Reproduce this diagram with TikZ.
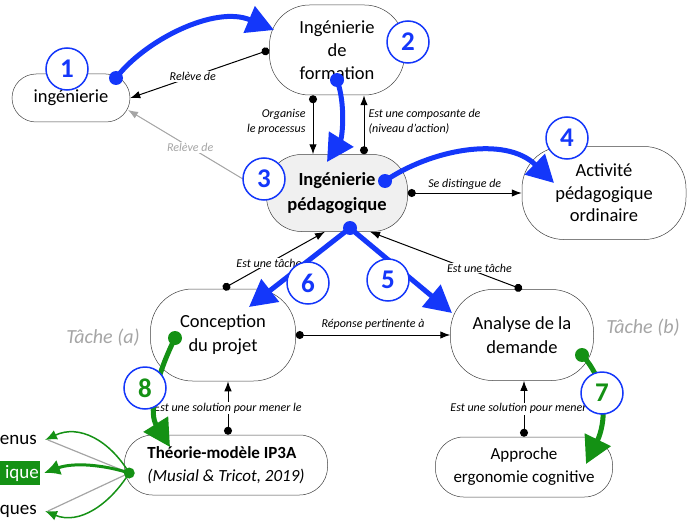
\documentclass[tikz,border=0pt]{standalone}
\usepackage{fontspec}
\setmainfont{Carlito}
\usetikzlibrary{arrows.meta, calc}

\definecolor{bleu}{RGB}{20,55,250}
\definecolor{vert}{RGB}{20,145,20}
\definecolor{gris}{RGB}{165,165,165}
\definecolor{fond}{RGB}{240,240,240}

\begin{document}
\begin{tikzpicture}[%
        x = 1pt, y = -1pt,
        > = Latex,
        line cap = round,
        bulle/.style = {%
            draw = black!75, line width = 0.5pt, align = center,
            inner sep = 2pt, font = \fontsize{18.5}{24}\selectfont
        },
        lien/.style = {line width = 1pt, {Circle[length = 8pt]}-{Latex[length = 10pt]}},
        etiq/.style = {font = \itshape\fontsize{12}{14.5}\selectfont, fill = white, inner sep = 1pt},
        tache/.style = {font = \itshape\fontsize{20}{24}\selectfont, text = gris},
        coupe/.style = {anchor = east, font = \fontsize{19}{19}\selectfont, inner sep = 1pt},
        fleche/.style = {%
            line width = 5pt,
            -{Triangle[length = 27pt, width = 28pt]}
        },
        num/.style = {%
            circle, draw = bleu, line width = 1.5pt, fill = white,
            minimum size = 42pt, inner sep = 0pt,
            font = \bfseries\fontsize{27}{27}\selectfont
        }
    ]

        \useasboundingbox (0, 0) rectangle (690, 524);
        \clip (0, 0) rectangle (690, 524);

        % Nodes of the map.
        \node[bulle, minimum width = 118pt, minimum height = 48pt, rounded corners = 24pt]
            (ing) at (71, 98) {ingénierie};
        \node[bulle, minimum width = 135pt, minimum height = 90pt, rounded corners = 40pt,
              font = \fontsize{18.5}{23}\selectfont]
            (form) at (337, 50) {Ingénierie\\de\\formation};
        \node[bulle, fill = fond, minimum width = 141pt, minimum height = 77pt, rounded corners = 35pt,
              font = \bfseries\fontsize{18.5}{25}\selectfont]
            (ped) at (337, 193) {Ingénierie\\pédagogique};
        \node[bulle, minimum width = 164pt, minimum height = 93pt, rounded corners = 42pt,
              font = \fontsize{18.5}{22.5}\selectfont]
            (act) at (604, 193) {Activité\\pédagogique\\ordinaire};
        \node[bulle, minimum width = 145pt, minimum height = 92pt, rounded corners = 42pt]
            (conc) at (223, 335) {Conception\\du projet};
        \node[bulle, minimum width = 143pt, minimum height = 91pt, rounded corners = 42pt]
            (anal) at (522, 335) {Analyse de la\\demande};
        \node[bulle, align = left, minimum width = 203pt, minimum height = 60pt, rounded corners = 28pt,
              font = \fontsize{17}{23}\selectfont]
            (theo) at (226, 465) {\textbf{Théorie-modèle IP3A}\\\textit{(Musial \& Tricot, 2019)}};
        \node[bulle, minimum width = 177pt, minimum height = 60pt, rounded corners = 28pt,
              font = \fontsize{17}{23}\selectfont]
            (appr) at (524, 467) {Approche\\ergonomie cognitive};

        % Texts cut by the left edge.
        \node[coupe] (enus) at (38, 440) {enus};
        \node[coupe, fill = vert, text = white, text width = 38pt, align = right,
              minimum height = 24pt] (ique) at (40, 473) {ique};
        \node[coupe] (ques) at (38, 511) {ques};

        % Task labels.
        \node[tache] (ta) at (103, 338) {Tâche (a)};
        \node[tache] (tb) at (643, 328) {Tâche (b)};

        % Relations between the nodes.
        \draw[lien] (form.west) to
            node[etiq, pos = 0.55] {Relève de} (ing.east);
        \draw[lien, draw = gris, fill = gris] (ped.west) to
            node[etiq, text = gris, pos = 0.55] {Relève de} ($(ing.center) + (57, 12)$);
        \draw[lien] ($(form.south) + (-24, 0)$) to
            node[etiq, left = 6pt, align = right, pos = 0.45] {Organise\\le processus}
            ($(ped.north) + (-24, 0)$);
        \draw[lien] ($(ped.north) + (27, 0)$) to
            node[etiq, right = 3pt, align = left, pos = 0.55] {Est une composante de\\(niveau d’action)}
            ($(form.south) + (27, 0)$);
        \draw[lien] (ped.east) to
            node[etiq, above = 2pt] {Se distingue de} (act.west);
        \draw[lien] (conc.north) to
            node[etiq, pos = 0.45] {Est une tâche} ($(ped.south) + (-12, 0)$);
        \draw[lien] (anal.north) to
            node[etiq, pos = 0.28, yshift = 5pt] {Est une tâche} ($(ped.south) + (33, 0)$);
        \draw[lien] (conc.east) to
            node[etiq, above = 4pt] {Réponse pertinente à} (anal.west);
        \draw[lien] ($(theo.north) + (2, 0)$) to
            node[etiq] {Est une solution pour mener le} ($(conc.south) + (5, 0)$);
        \draw[lien] (appr.north) to
            node[etiq] {Est une solution pour mener le} ($(anal.south) + (2, 0)$);

        % Reading path (blue).
        \coordinate (d1) at ($(ing) + (45, -20)$);
        \coordinate (d2) at ($(form) + (0, 30)$);
        \coordinate (d3) at ($(ped) + (48, -12)$);
        \coordinate (d5) at ($(ped) + (13, 35)$);
        \begin{scope}[bleu]
            \draw[fleche] (d1) .. controls +(29, -38) and +(-59, -25) .. ($(form) + (-63, -20)$);
            \draw[fleche] (d2) .. controls +(9, 25) and +(15, -24) .. ($(ped) + (-10, -31)$);
            \draw[fleche] (d3) .. controls +(45, -31) and +(-49, -48) .. ($(act) + (-50, -10)$);
            \draw[fleche] (d5) -- ($(anal) + (-70, -22)$);
            \draw[fleche] (d5) -- ($(conc) + (26, -28)$);
            \foreach \d in {d1, d2, d3, d5}
                \fill (\d) circle (7pt);
        \end{scope}

        % Reading path (green).
        \coordinate (d7) at ($(anal) + (60, 20)$);
        \coordinate (d8) at ($(conc) + (-48, 3)$);
        \begin{scope}[vert]
            \draw[fleche] (d7) .. controls +(28, 30) and +(19, -39) .. ($(appr) + (62, -3)$);
            \draw[fleche] (d8) .. controls +(-23, 47) and +(-20, -32) .. ($(theo) + (-56, -18)$);
            \foreach \d in {d7, d8}
                \fill (\d) circle (7pt);
        \end{scope}

        % Links to the cut texts.
        \coordinate (src) at ($(theo.west) + (5, 8)$);
        \draw[gris, line width = 1.2pt] (src) -- ([xshift = 10pt]enus.east);
        \draw[gris, line width = 1.2pt] (src) -- ([xshift = 10pt]ques.east);
        \begin{scope}[vert, -{Latex[length = 12pt, width = 10pt]}]
            \draw[line width = 1.5pt] (src) .. controls +(-20, -33) and +(34, -16) .. ([xshift = 7pt]enus.east);
            \draw[line width = 3pt, -{Latex[length = 16pt, width = 16pt]}]
                (src) .. controls +(-25, -8) and +(30, -11) .. ([xshift = 4pt]ique.east);
            \draw[line width = 1.5pt] (src) .. controls +(-20, 32) and +(34, 14) .. ([xshift = 7pt]ques.east);
        \end{scope}
        \fill[vert] (src) circle (5.5pt);

        % Step numbers.
        \node[num, text = bleu] (n1) at (67, 69) {1};
        \node[num, text = bleu] (n2) at (408, 42) {2};
        \node[num, text = bleu] (n3) at (264, 179) {3};
        \node[num, text = bleu] (n4) at (567, 138) {4};
        \node[num, text = bleu] (n5) at (388, 280) {5};
        \node[num, text = bleu] (n6) at (308, 283) {6};
        \node[num, text = vert] (n7) at (602, 393) {7};
        \node[num, text = vert] (n8) at (145, 388) {8};
    \end{tikzpicture}
\end{document}
